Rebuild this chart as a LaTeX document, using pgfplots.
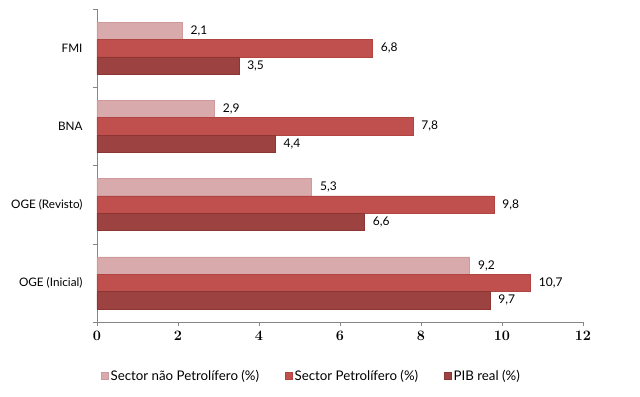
\documentclass[border=0pt]{standalone}
\usepackage{pgfplots}
\pgfplotsset{compat=1.18}
\usepackage{fontspec}
\setmainfont{Lato}
\definecolor{cpink}{HTML}{D9AAAB}
\definecolor{cpinkE}{HTML}{CF9A9B}
\definecolor{cred}{HTML}{C0504D}
\definecolor{credE}{HTML}{B04440}
\definecolor{cdark}{HTML}{9C4341}
\definecolor{cdarkE}{HTML}{8C3533}
\definecolor{caxis}{HTML}{868686}
\begin{document}
\begin{tikzpicture}
\begin{axis}[
  scale only axis, width=486pt, height=313pt,
  xbar, bar width=0.222,
  xmin=0, xmax=12, ymin=-0.5, ymax=3.5,
  axis x line=bottom, axis y line=left,
  axis line style={caxis, -},
  xtick={0,2,...,12},
  x tick label style={font=\fontsize{14.5}{16}\selectfont\boldmath, yshift=-2pt},
  major tick style={caxis},
  tick align=outside,
  major tick length=4pt,
  ytick={0,1,2,3},
  yticklabels={OGE (Inicial),OGE (Revisto),BNA,FMI},
  y tick label style={font=\fontsize{11.7}{13}\selectfont, xshift=-7pt},
  y tick style={draw=none},
  minor ytick={-0.5,0.5,1.5,2.5,3.5},
  minor tick length=4pt,
  minor y tick style={caxis, draw=caxis},
  nodes near coords,
  nodes near coords style={font=\fontsize{12}{14}\selectfont, anchor=west, xshift=5pt,
    /pgf/number format/.cd, fixed, fixed zerofill, precision=1, use comma, assume math mode=true},
  legend columns=3,
  legend style={draw=none, at={(0.002,-0.172)}, anchor=west,
    font=\fontsize{13.3}{15}\selectfont,
    /tikz/column 2/.style={column sep=24pt},
    /tikz/column 4/.style={column sep=24pt}},
  legend image code/.code={\draw[#1] (0pt,-3.5pt) rectangle (7pt,3.5pt);},
]
\addplot[fill=cpink, draw=cpinkE, bar shift=0.222] coordinates {(9.2,0) (5.3,1) (2.9,2) (2.1,3)};
\addplot[fill=cred, draw=credE, bar shift=0] coordinates {(10.7,0) (9.8,1) (7.8,2) (6.8,3)};
\addplot[fill=cdark, draw=cdarkE, bar shift=-0.222] coordinates {(9.7,0) (6.6,1) (4.4,2) (3.5,3)};
\legend{Sector não Petrolífero (\%),Sector Petrolífero (\%),PIB real (\%)}
\end{axis}
\path ([shift={(-97pt,-75pt)}]current axis.south west) rectangle ([shift={(57pt,9pt)}]current axis.north east);
\end{tikzpicture}
\end{document}
